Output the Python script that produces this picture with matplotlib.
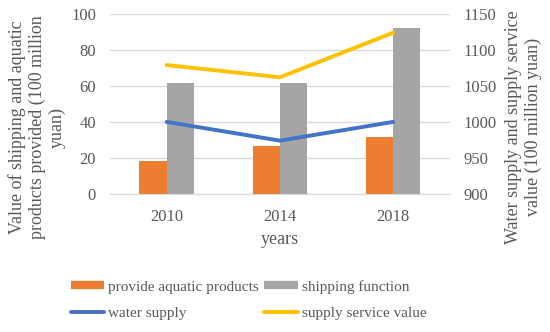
import matplotlib
matplotlib.use("Agg")
import matplotlib.pyplot as plt
from matplotlib.lines import Line2D
import numpy as np

years = ["2010", "2014", "2018"]
aquatic = [18.3, 26.8, 31.8]
shipping = [61.4, 61.4, 92.0]
water_supply = [1000, 974, 1000]
supply_service = [1079, 1062, 1124]

plt.rcParams['font.family'] = ['Liberation Serif', 'DejaVu Serif']
plt.rcParams['font.size'] = 12

c_or, c_gr, c_bl, c_ye = "#ED7D31", "#A5A5A5", "#4472C4", "#FFC000"
tc = "#595959"

fig = plt.figure(figsize=(5.5, 3.32), dpi=100)
ax = fig.add_axes([0.2, 0.416, 0.618, 0.542])
ax2 = ax.twinx()

x = np.arange(len(years))
w = 0.24
ax.bar(x - w/2, aquatic, w, color=c_or, zorder=2)
ax.bar(x + w/2, shipping, w, color=c_gr, zorder=2)
ax.set_xlim(-0.5, 2.5)
ax.set_ylim(0, 100)
ax.set_yticks(range(0, 101, 20))
ax.grid(axis='y', color='#D9D9D9', lw=1, zorder=0)
ax.set_axisbelow(True)

ax2.plot(x, water_supply, color=c_bl, lw=2.8, solid_capstyle='round', zorder=3)
ax2.plot(x, supply_service, color=c_ye, lw=2.8, solid_capstyle='round', zorder=3)
ax2.set_ylim(900, 1150)
ax2.set_yticks(range(900, 1151, 50))

for a in (ax, ax2):
    for s in a.spines.values():
        s.set_visible(False)
    a.tick_params(length=0, colors=tc, labelsize=12)
ax.spines['bottom'].set_visible(True)
ax.spines['bottom'].set_color('#D9D9D9')
ax.set_xticks(x)
ax.set_xticklabels(years)
ax.tick_params(axis='x', pad=11)
ax.tick_params(axis='y', pad=10)
ax2.tick_params(axis='y', pad=10)

ax.set_xlabel("years", color=tc, fontsize=13, labelpad=4)
fig.text(0.067, 0.617, "Value of shipping and aquatic\nproducts provided (100 million\nyuan)",
         rotation=90, ha='center', va='center', multialignment='center',
         color=tc, fontsize=13, linespacing=1.2)
fig.text(0.952, 0.617, "Water supply and supply service\nvalue (100 million yuan)",
         rotation=90, ha='center', va='center', multialignment='center',
         color=tc, fontsize=13, linespacing=1.2)

handles = [
    Line2D([], [], color=c_or, lw=6, solid_capstyle='butt'),
    Line2D([], [], color=c_bl, lw=2.8, solid_capstyle='round'),
    Line2D([], [], color=c_gr, lw=6, solid_capstyle='butt'),
    Line2D([], [], color=c_ye, lw=2.8, solid_capstyle='round'),
]
labels = ["provide aquatic products", "water supply", "shipping function", "supply service value"]
leg = fig.legend(handles, labels, ncol=2, loc='center', bbox_to_anchor=(0.452, 0.0964),
                 frameon=False, fontsize=11, handlelength=2.2, handletextpad=0.25,
                 columnspacing=0.35, labelspacing=0.85)
for t in leg.get_texts():
    t.set_color(tc)

fig.savefig("out.png", dpi=100)
